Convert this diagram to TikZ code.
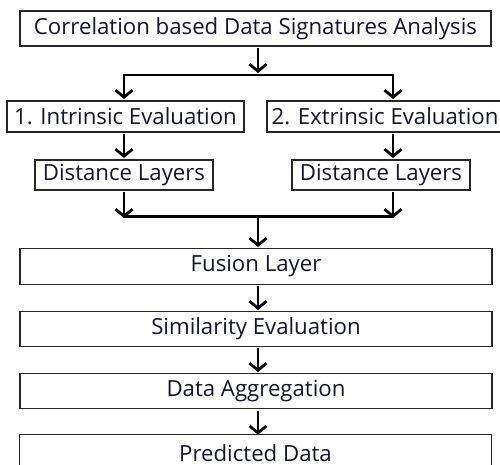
\documentclass[tikz,border=0pt]{standalone}
\usepackage{fontspec}
\setmainfont{Open Sans}
\usetikzlibrary{arrows.meta}
\definecolor{ink}{rgb}{0.08,0.08,0.16}
\begin{document}
\begin{tikzpicture}[x=1pt,y=-1pt,
  box/.style={draw=black!85, line width=1.4pt, fill=white, inner sep=0pt,
    font=\fontsize{22.2}{24}\selectfont, text=ink},
  frame/.style={draw=black!85, line width=1.4pt},
  flow/.style={line width=2.8pt, -{Straight Barb[length=7pt,width=17pt,line width=2.8pt]}},
  link/.style={line width=2.8pt}]
\useasboundingbox (0,0) rectangle (500,465);

% boxes
\node[box, minimum width=471, minimum height=35] (top) at (255.5,28.5) {Correlation based Data Signatures Analysis};
\node[box, minimum width=237, minimum height=31] (intr) at (125.5,116.5) {1. Intrinsic Evaluation};
\node[box, minimum width=236, minimum height=31] (extr) at (385,116.5) {2. Extrinsic Evaluation};
\node[box, minimum width=178, minimum height=30] (dl1) at (124,175) {Distance Layers};
\node[box, minimum width=178, minimum height=30] (dl2) at (381,175) {Distance Layers};
\node[box, minimum width=472, minimum height=36] (fus) at (256,266.5) {Fusion Layer};
\node[box, minimum width=472, minimum height=35] (sim) at (256,329) {Similarity Evaluation};
\node[box, minimum width=472, minimum height=35.5] (agg) at (256,391) {Data Aggregation};
% last box runs past the lower edge: an open frame round a borderless text node
\node[box, draw=none, anchor=north, minimum width=471, text height=26pt, text depth=2pt] (pred) at (255.5,434.7) {Predicted Data};
\draw[frame] (pred.south west) ++(0,12) -- (pred.north west) -- (pred.north east) -- ++(0,40);

% split and merge points
\coordinate (s) at (258,75);
\coordinate (sl) at (124,75);
\coordinate (sr) at (393,75);
\coordinate (m) at (258,216.5);
\coordinate (ml) at (124,216.5);
\coordinate (mr) at (393,216.5);

% connectors
\draw[flow] (258,48) -- (258,73);
\draw[link, line cap=rect] (sl) -- (sr);
\draw[flow] (sl) -- (124,99);
\draw[flow] (sr) -- (393,99);
\draw[flow] (124,134) -- (124,158);
\draw[flow] (393,134) -- (393,158);
\draw[flow] (124,192) -- (124,218);
\draw[flow] (393,192) -- (393,218);
\draw[link, line cap=rect] (ml) -- (mr);
\draw[flow] (m) -- (258,247);
\draw[flow] (258,286) -- (258,310);
\draw[flow] (258,348) -- (258,372);
\draw[flow] ([xshift=2pt,yshift=-1.5pt]agg.south) -- ([xshift=2.5pt]pred.north);
\end{tikzpicture}
\end{document}
